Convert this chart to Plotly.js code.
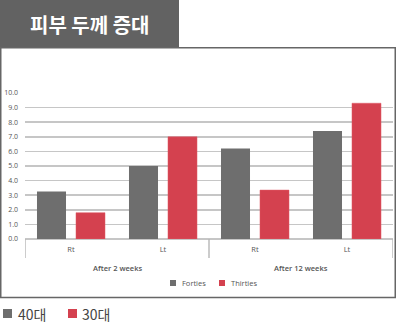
<!DOCTYPE html>
<html><head><meta charset="utf-8">
<script src="https://cdn.plot.ly/plotly-3.0.1.min.js"></script>
<style>html,body{margin:0;padding:0;background:#fff}#c{width:397px;height:323px}</style>
</head><body><div id="c"></div>
<script>
const periods = ['After 2 weeks','After 2 weeks','After 12 weeks','After 12 weeks'];
const sides = ['Rt','Lt','Rt','Lt'];
const seriesNames = ['Forties','Thirties'];
const koreanNames = ['40대','30대'];
const forties = [3.25, 5.0, 6.2, 7.4];
const thirties = [1.8, 7.0, 3.35, 9.3];
const yTicks = [0,1,2,3,4,5,6,7,8,9,10];
const title = '피부 두께 증대';

const GRAY = '#6e6e6e', RED = '#d4414f';
const L = 25, R = 393, T = 93, B = 239;
const W = 397, H = 323;
const px = x => (x - L) / (R - L);
const py = y => (B - y) / (B - T);

const cats = periods.map((p, i) => p + ' ' + sides[i]);
const groupNames = [...new Set(periods)];

const traces = [
  {type:'bar', name:seriesNames[0], x:cats, y:forties, marker:{color:GRAY}, showlegend:false},
  {type:'bar', name:seriesNames[1], x:cats, y:thirties, marker:{color:RED, line:{color:'#e05a66', width:0.5}}, showlegend:false}
];

const shapes = [
  {type:'rect', xref:'paper', yref:'paper', x0:px(0), x1:px(179), y0:py(0), y1:py(47), fillcolor:'#626262', line:{width:0}, layer:'below'},
  {type:'rect', xref:'paper', yref:'paper', x0:px(0.75), x1:px(395.25), y0:py(47.75), y1:py(297.5), line:{color:'#666', width:1.5}, fillcolor:'rgba(0,0,0,0)'},
  {type:'rect', xref:'paper', yref:'paper', x0:px(170), x1:px(176), y0:py(280), y1:py(286), fillcolor:GRAY, line:{width:0}},
  {type:'rect', xref:'paper', yref:'paper', x0:px(219), x1:px(225), y0:py(280), y1:py(286), fillcolor:RED, line:{width:0}},
  {type:'rect', xref:'paper', yref:'paper', x0:px(3), x1:px(12), y0:py(309), y1:py(318), fillcolor:GRAY, line:{width:0}},
  {type:'rect', xref:'paper', yref:'paper', x0:px(68), x1:px(77), y0:py(309), y1:py(318), fillcolor:RED, line:{width:0}}
];
[-0.5, 1.5, 3.5].forEach(xv => shapes.push({type:'line', xref:'x', yref:'paper', x0:xv, x1:xv, y0:py(239.5), y1:py(258), line:{color:'#999', width:1}}));

const annotations = [
  {xref:'paper', yref:'paper', x:px(89), y:py(24), text:'<b>'+title+'</b>', showarrow:false, font:{family:'Noto Sans CJK KR', size:20, color:'#fff'}, xanchor:'center', yanchor:'middle'},
  {xref:'paper', yref:'paper', x:px(179.5), y:py(283), text:seriesNames[0], showarrow:false, font:{family:'Open Sans', size:7.5, color:'#555'}, xanchor:'left', yanchor:'middle'},
  {xref:'paper', yref:'paper', x:px(228.5), y:py(283), text:seriesNames[1], showarrow:false, font:{family:'Open Sans', size:7.5, color:'#555'}, xanchor:'left', yanchor:'middle'},
  {xref:'paper', yref:'paper', x:px(16), y:py(313.5), text:koreanNames[0], showarrow:false, font:{family:'Noto Sans CJK KR', size:14, color:'#444'}, xanchor:'left', yanchor:'middle'},
  {xref:'paper', yref:'paper', x:px(80), y:py(313.5), text:koreanNames[1], showarrow:false, font:{family:'Noto Sans CJK KR', size:14, color:'#444'}, xanchor:'left', yanchor:'middle'}
];
groupNames.forEach((g, gi) => annotations.push({xref:'x', yref:'paper', x:gi*2+0.5, y:py(268), text:g, showarrow:false, font:{family:'Open Sans', size:7.5, color:'#555', weight:600}, xanchor:'center', yanchor:'middle'}));

const layout = {
  width:W, height:H,
  margin:{l:L, r:W-R, t:T, b:H-B, pad:0},
  paper_bgcolor:'#fff', plot_bgcolor:'#fff',
  barmode:'group', bargap:0.152, bargroupgap:0.256,
  showlegend:false,
  xaxis:{type:'category', range:[-0.5, 3.5], tickvals:cats, ticktext:sides, showgrid:false, showline:false, ticks:'', zeroline:false,
    ticklabelstandoff:4, tickfont:{family:'Open Sans', size:7.5, color:'#555'}, fixedrange:true},
  yaxis:{range:[0,10], tickvals:yTicks, ticktext:yTicks.map(v=>v.toFixed(1)), showgrid:true, gridcolor:'#c6c6c6', gridwidth:1.6,
    zeroline:true, zerolinecolor:'#c6c6c6', zerolinewidth:1.6, showline:false, ticks:'', ticklabelstandoff:6,
    tickfont:{family:'Open Sans', size:7, color:'#555'}, fixedrange:true},
  shapes, annotations
};
Plotly.newPlot('c', traces, layout, {displayModeBar:false, staticPlot:true});
</script></body></html>
